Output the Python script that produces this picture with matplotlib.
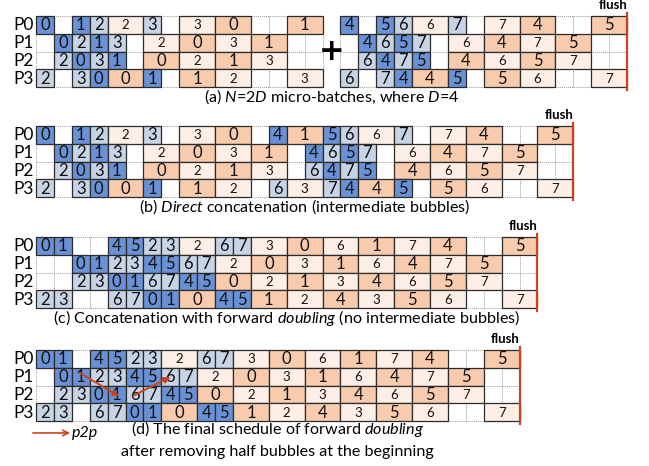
import matplotlib
matplotlib.use("Agg")
import matplotlib.pyplot as plt
from matplotlib.patches import Rectangle

plt.rcParams['font.family'] = ['Lato', 'DejaVu Sans']
plt.rcParams['mathtext.fontset'] = 'custom'
plt.rcParams['mathtext.rm'] = 'Lato'
plt.rcParams['mathtext.it'] = 'Lato:italic'

stages = ["P0", "P1", "P2", "P3"]

# Fk = forward of micro-batch k (1 slot), Bk = backward (2 slots), . = idle slot
sched_a_left = [
    "F0 . F1 F2 B2 F3 . B3 B0 . . B1",
    ". F0 F2 F1 F3 . B2 B0 B3 B1 . .",
    ". F2 F0 F3 F1 . B0 B2 B1 B3 . .",
    "F2 . F3 F0 B0 F1 . B1 B2 . . B3",
]
sched_a_right = [
    "F4 . F5 F6 B6 F7 . B7 B4 . . B5",
    ". F4 F6 F5 F7 . B6 B4 B7 B5 . .",
    ". F6 F4 F7 F5 . B4 B6 B5 B7 . .",
    "F6 . F7 F4 B4 F5 . B5 B6 . . B7",
]
sched_b = [
    "F0 . F1 F2 B2 F3 . B3 B0 . F4 B1 F5 F6 B6 F7 . B7 B4 . . B5",
    ". F0 F2 F1 F3 . B2 B0 B3 B1 . F4 F6 F5 F7 . B6 B4 B7 B5 . .",
    ". F2 F0 F3 F1 . B0 B2 B1 B3 . F6 F4 F7 F5 . B4 B6 B5 B7 . .",
    "F2 . F3 F0 B0 F1 . B1 B2 . F6 B3 F7 F4 B4 F5 . B5 B6 . . B7",
]
sched_c = [
    "F0 F1 . . F4 F5 F2 F3 B2 F6 F7 B3 B0 B6 B1 B7 B4 . . B5",
    ". . F0 F1 F2 F3 F4 F5 F6 F7 B2 B0 B3 B1 B6 B4 B7 B5 . .",
    ". . F2 F3 F0 F1 F6 F7 F4 F5 B0 B2 B1 B3 B4 B6 B5 B7 . .",
    "F2 F3 . . F6 F7 F0 F1 B0 F4 F5 B1 B2 B4 B3 B5 B6 . . B7",
]
sched_d = [
    "F0 F1 . F4 F5 F2 F3 B2 F6 F7 B3 B0 B6 B1 B7 B4 . . B5",
    ". F0 F1 F2 F3 F4 F5 F6 F7 B2 B0 B3 B1 B6 B4 B7 B5 . .",
    ". F2 F3 F0 F1 F6 F7 F4 F5 B0 B2 B1 B3 B4 B6 B5 B7 . .",
    "F2 F3 . F6 F7 F0 F1 B0 F4 F5 B1 B2 B4 B3 B5 B6 . . B7",
]
down_mb = [0, 1, 4, 5]   # darker shades, the rest get the light ones

captions = [
    ["(a) $\\mathit{N}$=2$\\mathit{D}$ micro-batches, where $\\mathit{D}$=4"],
    ["(b) $\\mathit{Direct}$ concatenation (intermediate bubbles)"],
    ["(c) Concatenation with forward $\\mathit{doubling}$ (no intermediate bubbles)"],
    ["(d) The final schedule of forward $\\mathit{doubling}$",
     "after removing half bubbles at the beginning"],
]
# p2p arrows in (d): (col, row) -> (col, row)
p2p_arrows = [((2.42, 1.27), (4.65, 2.61)), ((5.44, 2.56), (7.5, 1.52))]

F_DARK, F_LIGHT = "#6892D5", "#C7D4E6"
B_DARK, B_LIGHT = "#F8CBAD", "#FDEFE6"
EDGE = "#2b2b2b"
RED = "#C9451F"

CW, RH = 17.91, 17.8      # pixels per slot / per stage row
X0 = 36                   # pixel x of slot 0

fig = plt.figure(figsize=(6.49, 4.66), dpi=100)
ax = fig.add_axes([0, 0, 1, 1])
ax.set_xlim(-X0 / CW, (649 - X0) / CW)
ax.set_ylim(466 / RH, 0)
ax.axis("off")


def draw_sched(rows, x0, y0):
    width = 0
    for r, row in enumerate(rows):
        pos = x0
        for tok in row.split():
            if tok == ".":
                pos += 1
                continue
            mb = int(tok[1:])
            dark = mb in down_mb
            if tok[0] == "F":
                w, fc = 1, (F_DARK if dark else F_LIGHT)
                fs = 12
            else:
                w, fc = 2, (B_DARK if dark else B_LIGHT)
                fs = 12 if dark else 9.5
            ax.add_patch(Rectangle((pos, y0 + r), w, 1, facecolor=fc,
                                   edgecolor=EDGE, lw=0.9, zorder=3))
            ax.text(pos + w / 2, y0 + r + 0.52, str(mb), ha="center",
                    va="center", fontsize=fs, color="#111111", zorder=4)
            pos += w
        width = max(width, pos - x0)
    # dotted slot grid underneath
    for k in range(width + 1):
        ax.plot([x0 + k, x0 + k], [y0, y0 + 4], ls=(0, (1, 1)),
                color="#9a9a9a", lw=0.7, zorder=1)
    for r in range(5):
        ax.plot([x0, x0 + width], [y0 + r, y0 + r], ls=(0, (1, 1)),
                color="#9a9a9a", lw=0.7, zorder=1)
    return width


def draw_panel(y0, end, caption, cap_dy):
    for r, name in enumerate(stages):
        ax.text(-0.12, y0 + r + 0.52, name, ha="right", va="center",
                fontsize=12.5)
    ax.plot([end, end], [y0 - 0.17, y0 + 4.17], color=RED, lw=1.6, zorder=5)
    ax.text(end, y0 - 0.3, "flush", ha="right", va="bottom",
            fontsize=9.5, fontweight="bold")
    for i, line in enumerate(caption):
        ax.text(end / 2, y0 + 4 + cap_dy + i * 1.28, line, ha="center",
                va="center", fontsize=11.6)


# (a)
ya = 16 / RH
wl = draw_sched(sched_a_left, 0, ya)
wr = draw_sched(sched_a_right, wl + 1, ya)
ax.text(wl + 0.5, ya + 2, "+", ha="center", va="center", fontsize=22,
        fontweight="bold", family="DejaVu Sans", zorder=5)
draw_panel(ya, wl + 1 + wr, captions[0], 0.56)

# (b)
yb = 126 / RH
wb = draw_sched(sched_b, 0, yb)
draw_panel(yb, wb, captions[1], 0.56)

# (c)
yc = 237 / RH
wc = draw_sched(sched_c, 0, yc)
draw_panel(yc, wc, captions[2], 0.56)

# (d)
yd = 350 / RH
wd = draw_sched(sched_d, 0, yd)
draw_panel(yd, wd, captions[3], 0.45)
for (sx, sy), (ex, ey) in p2p_arrows:
    ax.annotate("", xy=(ex, yd + ey), xytext=(sx, yd + sy),
                arrowprops=dict(arrowstyle="-|>", color=RED, lw=1.4,
                                mutation_scale=9, shrinkA=0, shrinkB=0),
                zorder=6)
ax.annotate("", xy=(1.9, yd + 4.66), xytext=(-0.17, yd + 4.66),
            arrowprops=dict(arrowstyle="->", color=RED, lw=1.2,
                            mutation_scale=10, shrinkA=0, shrinkB=0))
ax.text(2.0, yd + 4.66, "p2p", ha="left", va="center", fontsize=11.5,
        style="italic")

fig.savefig("out.png", dpi=100, facecolor="white")
